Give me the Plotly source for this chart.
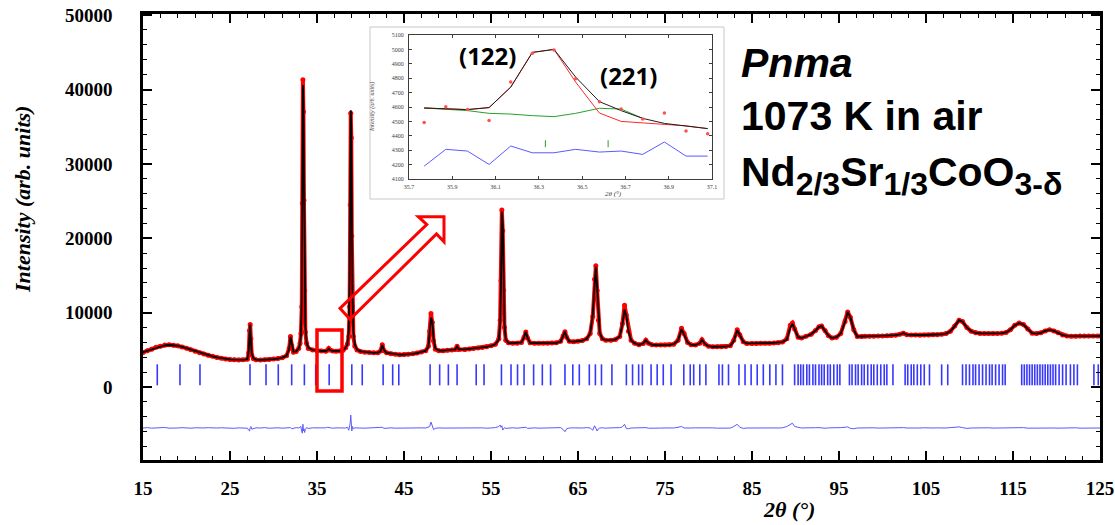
import plotly.graph_objects as go

# ---------------- main pattern ----------------
two_theta = [15.0, 15.5, 16.0, 16.5, 17.0, 17.5, 18.0, 18.5, 19.0, 19.5, 20.0, 20.5, 21.0, 21.5,
             22.0, 22.5, 23.0, 23.5, 24.0, 24.5, 25.0, 25.5, 26.0, 26.5, 27.0, 27.15, 27.25, 27.32,
             27.4, 27.5, 27.7, 28.0, 28.5, 29.0, 29.5, 30.0, 30.5, 31.0, 31.5, 31.8, 31.95, 32.1,
             32.3, 32.6, 32.9, 33.05, 33.15, 33.25, 33.32, 33.38, 33.44, 33.5, 33.58, 33.66, 33.8,
             34.0, 34.5, 35.0, 35.5, 36.0, 36.2, 36.35, 36.5, 36.8, 37.2, 37.6, 38.0, 38.3, 38.5,
             38.65, 38.75, 38.82, 38.88, 38.94, 39.0, 39.08, 39.18, 39.35, 39.6, 40.0, 40.5, 41.0,
             41.5, 42.0, 42.3, 42.5, 42.7, 43.0, 43.5, 44.0, 44.5, 45.0, 45.5, 46.0, 46.5, 47.0,
             47.5, 47.8, 47.95, 48.1, 48.25, 48.4, 48.6, 49.0, 49.5, 50.0, 50.5, 50.9, 51.1, 51.3,
             52.0, 52.5, 53.0, 53.5, 54.0, 54.5, 55.0, 55.5, 55.9, 56.05, 56.15, 56.25, 56.35, 56.45,
             56.55, 56.7, 57.0, 57.5, 58.0, 58.5, 58.8, 59.0, 59.2, 59.5, 60.0, 60.5, 61.0, 61.5,
             62.0, 62.5, 63.0, 63.3, 63.5, 63.7, 64.0, 64.5, 65.0, 65.5, 66.0, 66.4, 66.7, 66.9,
             67.05, 67.2, 67.35, 67.5, 67.8, 68.2, 68.8, 69.3, 69.8, 70.1, 70.35, 70.55, 70.8, 71.1,
             71.5, 72.0, 72.5, 72.8, 73.1, 73.5, 74.0, 74.5, 75.0, 75.5, 76.0, 76.5, 76.9, 77.2,
             77.6, 78.0, 78.5, 79.0, 79.25, 79.6, 80.0, 80.5, 81.0, 81.5, 82.0, 82.5, 82.9, 83.3,
             83.6, 84.0, 84.4, 85.0, 85.5, 86.0, 86.5, 87.0, 87.5, 88.0, 88.5, 89.0, 89.4, 89.65,
             89.9, 90.3, 90.7, 91.2, 91.8, 92.3, 92.7, 93.0, 93.4, 93.8, 94.2, 94.7, 95.2, 95.7,
             96.0, 96.3, 96.7, 97.1, 97.6, 98.0, 98.5, 99.0, 99.5, 100.0, 100.5, 101.0, 101.5,
             102.0, 102.4, 102.8, 103.3, 103.8, 104.3, 104.8, 105.3, 105.8, 106.3, 106.8, 107.3,
             107.8, 108.3, 108.8, 109.2, 109.7, 110.2, 110.7, 111.2, 111.7, 112.2, 112.7, 113.2,
             113.7, 114.2, 114.7, 115.2, 115.7, 116.2, 116.7, 117.2, 117.7, 118.2, 118.7, 119.2,
             119.7, 120.2, 120.7, 121.2, 121.7, 122.2, 122.7, 123.2, 123.7, 124.2, 124.7, 125.0]

y_obs = [4650, 4900, 5100, 5350, 5500, 5650, 5680, 5620, 5550, 5400, 5230, 5020, 4820, 4620,
         4450, 4280, 4130, 3990, 3870, 3780, 3720, 3680, 3650, 3660, 3750, 4600, 7600, 8400,
         6500, 4300, 3800, 3660, 3650, 3680, 3700, 3760, 3850, 3950, 4200, 5200, 6800, 5600,
         4700, 4800, 5200, 5900, 7200, 10800, 24700, 41300, 37000, 25100, 13000, 7400, 5900,
         5200, 5000, 4900, 4850, 4830, 4960, 5200, 5000, 4850, 4820, 4850, 4950, 5300, 5800,
         6800, 10800, 24500, 36800, 33500, 20300, 10800, 6800, 5500, 5000, 4800, 4700, 4640,
         4600, 4620, 4850, 5700, 4900, 4600, 4480, 4420, 4360, 4380, 4400, 4480, 4580, 4720,
         4900, 5500, 7500, 9900, 8700, 6200, 5100, 4900, 4900, 4950, 5000, 5050, 5500, 5050,
         5050, 5120, 5200, 5250, 5330, 5420, 5550, 5750, 6500, 9000, 14300, 23800, 21000, 13000,
         8000, 6300, 5950, 5900, 5900, 6000, 6700, 7400, 6600, 5950, 5900, 5900, 5880, 5900,
         5920, 5950, 6150, 6900, 7450, 6700, 6150, 6100, 6150, 6250, 6500, 7200, 9500, 14500,
         16300, 13000, 9000, 7200, 6500, 6300, 6300, 6400, 6800, 8500, 11000, 9700, 7500, 6300,
         5900, 5700, 5850, 6300, 5900, 5700, 5650, 5650, 5650, 5680, 5750, 6300, 7900, 7200,
         6000, 5700, 5650, 5900, 6350, 5800, 5500, 5420, 5420, 5430, 5450, 5550, 6300, 7700,
         7000, 6100, 5870, 5850, 5870, 5880, 5900, 5900, 5920, 5950, 6050, 6500, 8300, 8600,
         7800, 6700, 6600, 6850, 7100, 7600, 8100, 8200, 7600, 6900, 6600, 6700, 7200, 8800,
         10100, 9400, 7700, 6800, 6800, 6850, 6850, 6850, 6870, 6880, 6900, 6950, 6980,
         7100, 7250, 7050, 7000, 7000, 6980, 7000, 7000, 7020, 7050, 7100, 7200,
         7500, 8200, 9000, 8800, 8000, 7500, 7300, 7220, 7200, 7200, 7200, 7220,
         7250, 7350, 7700, 8300, 8600, 8400, 7800, 7250, 7200, 7300, 7550, 7700,
         7550, 7300, 7000, 6880, 6850, 6850, 6860, 6860, 6860, 6870, 6870, 6870]

y_calc = [4700, 4880, 5100, 5320, 5500, 5620, 5660, 5640, 5560, 5420, 5220, 5020, 4830, 4630,
          4440, 4270, 4120, 3990, 3880, 3780, 3720, 3680, 3660, 3650, 3760, 4900, 7300, 8400,
          6200, 4500, 3850, 3680, 3640, 3660, 3700, 3760, 3840, 3960, 4200, 5100, 6750, 5700,
          4750, 4800, 5200, 5800, 7000, 12000, 30000, 40600, 38200, 26000, 14500, 8200, 6000,
          5300, 4990, 4900, 4850, 4850, 4950, 5150, 4980, 4860, 4820, 4860, 4980, 5300, 5750,
          7600, 14500, 29000, 37200, 34500, 23000, 12500, 7500, 5700, 5050, 4800, 4720, 4650,
          4600, 4620, 4800, 5650, 4950, 4600, 4490, 4420, 4370, 4370, 4400, 4470, 4580, 4710,
          4900, 5400, 7200, 9300, 8900, 6500, 5200, 4920, 4900, 4960, 5000, 5050, 5450, 5080,
          5060, 5120, 5200, 5260, 5330, 5420, 5540, 5750, 6400, 8500, 14000, 23600, 22000, 14000,
          8500, 6400, 5950, 5900, 5900, 6000, 6700, 7450, 6600, 5950, 5900, 5900, 5880, 5900,
          5920, 5950, 6100, 6850, 7450, 6700, 6150, 6100, 6140, 6250, 6500, 7200, 9800, 14000,
          16200, 13400, 9400, 7300, 6500, 6300, 6300, 6400, 6800, 8400, 10400, 9600, 7500, 6300,
          5900, 5700, 5850, 6300, 5900, 5700, 5650, 5650, 5650, 5680, 5760, 6250, 7800, 7100,
          6000, 5700, 5650, 5880, 6350, 5800, 5500, 5420, 5420, 5430, 5450, 5550, 6200, 7650,
          7000, 6100, 5870, 5850, 5870, 5880, 5900, 5900, 5920, 5950, 6050, 6400, 8000, 8500,
          7800, 6700, 6600, 6850, 7100, 7600, 8100, 8200, 7600, 6900, 6600, 6700, 7200, 8800,
          10100, 9400, 7700, 6800, 6800, 6850, 6850, 6850, 6870, 6880, 6900, 6950, 6980,
          7100, 7250, 7050, 7000, 7000, 6980, 7000, 7000, 7020, 7050, 7100, 7200,
          7500, 8200, 9000, 8800, 8000, 7500, 7300, 7220, 7200, 7200, 7200, 7220,
          7250, 7350, 7700, 8300, 8600, 8400, 7800, 7250, 7200, 7300, 7550, 7700,
          7550, 7300, 7000, 6880, 6850, 6850, 6860, 6860, 6860, 6870, 6870, 6870]

y_diff = [-5500, -5450, -5520, -5480, -5500, -5430, -5520, -5560, -5500, -5450, -5500, -5530, -5470, -5520,
          -5490, -5460, -5530, -5500, -5470, -5520, -5490, -5540, -5480, -5510, -5530, -5800, -5900, -5450,
          -5300, -5650, -5550, -5480, -5500, -5450, -5530, -5490, -5470, -5520, -5500, -5400, -5450, -5600,
          -5500, -5450, -5500, -5400, -5300, -6000, -6200, -5000, -5900, -5600, -6100, -5700, -5450,
          -5550, -5480, -5500, -5450, -5480, -5400, -5420, -5500, -5530, -5480, -5500, -5450, -5500, -5400,
          -5800, -5200, -4800, -3760, -5000, -5900, -5300, -5600, -5480, -5500, -5460, -5520, -5490,
          -5470, -5510, -5450, -5400, -5550, -5500, -5480, -5520, -5500, -5470, -5530, -5490, -5510, -5480,
          -5500, -5400, -5300, -4700, -5400, -5700, -5550, -5480, -5510, -5500, -5470, -5520, -5450, -5500,
          -5490, -5520, -5460, -5500, -5480, -5530, -5470, -5450, -5300, -5100, -5400, -5200, -5780, -5600,
          -5450, -5550, -5500, -5470, -5520, -5500, -5450, -5400, -5550, -5500, -5480, -5520, -5500, -5470,
          -5530, -5500, -5450, -5700, -6000, -5600, -5500, -5480, -5520, -5500, -5450, -5500, -5800, -5200,
          -5500, -5900, -5600, -5500, -5470, -5520, -5480, -5500, -5450, -5350, -5000, -5550, -5600, -5500,
          -5480, -5520, -5500, -5450, -5530, -5500, -5470, -5510, -5490, -5520, -5500, -5400, -5300, -5500,
          -5550, -5500, -5480, -5460, -5450, -5520, -5500, -5480, -5520, -5500, -5470, -5510, -5300, -5000,
          -5400, -5550, -5500, -5480, -5520, -5500, -5460, -5510, -5490, -5500, -5470, -5300, -5000, -4850,
          -5300, -5450, -5500, -5480, -5520, -5460, -5450, -5500, -5530, -5480, -5500, -5470, -5450, -5400,
          -5350, -5550, -5600, -5500, -5480, -5520, -5500, -5470, -5510, -5490, -5520, -5500, -5460,
          -5480, -5450, -5500, -5520, -5490, -5500, -5470, -5510, -5500, -5480, -5520, -5500,
          -5450, -5400, -5350, -5450, -5550, -5500, -5480, -5520, -5500, -5470, -5510, -5490,
          -5520, -5500, -5450, -5400, -5380, -5450, -5520, -5500, -5480, -5520, -5470, -5450,
          -5500, -5520, -5490, -5510, -5500, -5470, -5520, -5500, -5480, -5510, -5500, -5500]

bragg_pos = [16.64, 19.25, 21.55, 27.3, 29.14, 30.55, 32.09, 33.55, 34.85, 36.4, 39.0, 40.2,
             42.6, 43.7, 44.4, 48.0, 49.1, 50.1, 51.1, 53.3, 54.2, 56.2, 57.3, 58.05, 58.8, 59.9,
             60.9, 61.85, 63.5, 64.4, 65.15, 66.3, 67.0, 67.7, 68.9, 70.56, 71.27, 71.97, 72.4,
             73.4, 74.1, 74.8, 75.7, 77.16, 77.9, 78.3, 79.0, 79.7, 81.2, 81.6, 82.3, 83.5, 84.2,
             84.9, 85.6, 86.3, 87.05, 87.75, 88.5, 89.9, 90.3, 90.6, 90.9, 91.3, 91.6, 92.0, 92.3,
             92.7, 93.0, 93.3, 93.7, 94.0, 94.4, 94.8, 95.1, 96.2, 96.5, 96.9, 97.2, 97.6, 97.9,
             98.3, 98.7, 99.0, 99.4, 99.8, 100.2, 100.5, 101.2, 102.6, 102.9, 103.3, 103.6, 104.0,
             104.4, 104.8, 105.4, 106.8, 107.5, 109.2, 109.6, 110.0, 110.4, 110.7, 111.1, 111.5,
             111.9, 112.3, 112.6, 113.0, 113.4, 113.8, 114.1, 116.0, 116.3, 116.6, 116.9, 117.2,
             117.5, 117.8, 118.1, 118.4, 118.7, 119.0, 119.3, 119.6, 119.9, 120.3, 120.7, 121.1,
             121.6, 122.0, 122.4, 124.3, 124.8]

x_ticks = [15, 25, 35, 45, 55, 65, 75, 85, 95, 105, 115, 125]
y_ticks = [0, 10000, 20000, 30000, 40000, 50000]

# ---------------- inset (35.7-37.1 deg) ----------------
ins_x = [35.77, 35.87, 35.97, 36.07, 36.17, 36.27, 36.37, 36.47, 36.58, 36.68, 36.78, 36.88, 36.98, 37.08]
ins_obs = [4493, 4602, 4582, 4507, 4773, 4974, 4995, 4796, 4637, 4586, 4516, 4558, 4434, 4415]
ins_calc = [4593, 4586, 4582, 4596, 4738, 4979, 5000, 4808, 4637, 4575, 4521, 4486, 4469, 4450]
ins_phase = [4593, 4586, 4582, 4596, 4738, 4979, 5000, 4773, 4558, 4500, 4488, 4479, 4469, 4450]
ins_green = [4593, 4582, 4575, 4556, 4551, 4540, 4533, 4556, 4591, 4586, 4521]
ins_diff = [4189, 4306, 4294, 4201, 4329, 4282, 4282, 4306, 4287, 4294, 4271, 4357, 4259, 4259]
ins_bragg = [36.33, 36.62]
ins_xticks = [35.7, 35.9, 36.1, 36.3, 36.5, 36.7, 36.9, 37.1]
ins_yticks = [4100, 4200, 4300, 4400, 4500, 4600, 4700, 4800, 4900, 5000, 5100]

# ---------------- layout helpers (window pixels -> paper) ----------------
W, H = 1115, 525
PLOT_L, PLOT_R, PLOT_T, PLOT_B = 143, 1100, 14, 460   # target frame, window pixels
ML, MR, MT, MB = PLOT_L, W - PLOT_R, PLOT_T, H - PLOT_B
PW, PH = W - ML - MR, H - MT - MB


def fx(px):
    return (px - PLOT_L) / PW


def fy(py):
    return (PLOT_B - py) / PH


SERIF = "Liberation Serif, Times New Roman, serif"
SANS = "Liberation Sans, Arial, sans-serif"

fig = go.Figure()

# observed (red band of points)
fig.add_trace(go.Scatter(x=two_theta, y=y_obs, mode="lines+markers",
                         line=dict(color="rgb(255,0,0)", width=4),
                         marker=dict(color="rgb(255,0,0)", size=5),
                         showlegend=False, xaxis="x", yaxis="y"))
# calculated
fig.add_trace(go.Scatter(x=two_theta, y=y_calc, mode="lines",
                         line=dict(color="black", width=1.8),
                         showlegend=False, xaxis="x", yaxis="y"))
# Bragg positions
fig.add_trace(go.Scatter(x=bragg_pos, y=[1650] * len(bragg_pos), mode="markers",
                         marker=dict(symbol="line-ns", size=15,
                                     line=dict(color="rgba(20,20,255,0.85)", width=1.6)),
                         showlegend=False, xaxis="x", yaxis="y"))
# difference
fig.add_trace(go.Scatter(x=two_theta, y=y_diff, mode="lines",
                         line=dict(color="rgb(90,90,255)", width=1),
                         showlegend=False, xaxis="x", yaxis="y"))

# inset traces
fig.add_trace(go.Scatter(x=ins_x[:len(ins_green)], y=ins_green, mode="lines",
                         line=dict(color="rgb(40,160,40)", width=1), showlegend=False,
                         xaxis="x2", yaxis="y2"))
fig.add_trace(go.Scatter(x=ins_x, y=ins_phase, mode="lines",
                         line=dict(color="rgb(255,40,40)", width=1), showlegend=False,
                         xaxis="x2", yaxis="y2"))
fig.add_trace(go.Scatter(x=ins_x, y=ins_calc, mode="lines",
                         line=dict(color="rgb(30,30,30)", width=1), showlegend=False,
                         xaxis="x2", yaxis="y2"))
fig.add_trace(go.Scatter(x=ins_x, y=ins_obs, mode="markers",
                         marker=dict(color="rgb(255,80,80)", size=3.5), showlegend=False,
                         xaxis="x2", yaxis="y2"))
fig.add_trace(go.Scatter(x=ins_x, y=ins_diff, mode="lines",
                         line=dict(color="rgb(90,90,255)", width=1), showlegend=False,
                         xaxis="x2", yaxis="y2"))
fig.add_trace(go.Scatter(x=ins_bragg, y=[4345] * len(ins_bragg), mode="markers",
                         marker=dict(symbol="line-ns", size=5,
                                     line=dict(color="rgb(40,160,40)", width=1)),
                         showlegend=False, xaxis="x2", yaxis="y2"))

axis_common = dict(showline=True, linecolor="black", linewidth=2.5, mirror="allticks",
                   ticks="inside", ticklen=9, tickwidth=2, tickcolor="black",
                   showgrid=False, zeroline=False, ticklabeloverflow="allow", automargin=False,
                   tickfont=dict(family=SERIF, size=19, color="black", weight="bold"))
inset_common = dict(showline=True, linecolor="rgb(60,60,60)", linewidth=1, mirror="allticks",
                    ticks="inside", ticklen=3, tickwidth=0.8, tickcolor="rgb(60,60,60)",
                    showgrid=False, zeroline=False, automargin=False,
                    tickfont=dict(family=SERIF, size=6, color="rgb(60,60,60)"))

fig.update_layout(
    width=W, height=H, autosize=False,
    margin=dict(l=ML, r=MR, t=MT, b=MB, pad=0, autoexpand=False),
    paper_bgcolor="white", plot_bgcolor="white",
    showlegend=False,
    xaxis=dict(range=[15, 125], tickvals=x_ticks, ticktext=[str(v) for v in x_ticks],
               minor=dict(tickvals=[v for v in range(17, 125, 2) if (v - 15) % 10 != 0],
                          ticks="inside", ticklen=4, tickwidth=1.2, tickcolor="black"),
               ticklabelstandoff=9, domain=[0, 1], anchor="y", **axis_common),
    yaxis=dict(range=[-9800, 50150], tickvals=y_ticks, ticktext=[str(v) for v in y_ticks],
               minor=dict(tickvals=[v for v in range(-8000, 50000, 2000) if v % 10000 != 0],
                          ticks="inside", ticklen=4, tickwidth=1.2, tickcolor="black"),
               ticklabelstandoff=24, domain=[0, 1], anchor="x", **axis_common),
    xaxis2=dict(domain=[fx(409), fx(712)], anchor="y2", range=[35.7, 37.1],
                tickvals=ins_xticks, ticktext=[f"{v:.1f}" for v in ins_xticks],
                ticklabelstandoff=2, **inset_common),
    yaxis2=dict(domain=[fy(179), fy(35)], anchor="x2", range=[4100, 5100],
                tickvals=ins_yticks, ticktext=[str(v) for v in ins_yticks],
                ticklabelstandoff=3, **inset_common),
)

shapes = [
    # inset picture border
    dict(type="rect", xref="paper", yref="paper", x0=fx(370), x1=fx(724), y0=fy(199), y1=fy(27),
         line=dict(color="rgb(200,200,200)", width=1), fillcolor="rgba(0,0,0,0)", layer="below"),
    # red box around the zoomed region
    dict(type="rect", xref="paper", yref="paper", x0=fx(317), x1=fx(342), y0=fy(391), y1=fy(330),
         line=dict(color="rgb(255,0,0)", width=3.5), layer="above"),
]
arrow_px = [(340, 308.3), (426.7, 224.5), (418.3, 216.7), (444, 216.7), (444, 241.7),
            (436.5, 234), (350, 319.3)]
path = "M " + " L ".join(f"{fx(a):.5f},{fy(b):.5f}" for a, b in arrow_px) + " Z"
shapes.append(dict(type="path", xref="paper", yref="paper", path=path,
                   line=dict(color="rgb(255,0,0)", width=3), fillcolor="rgba(0,0,0,0)",
                   layer="above"))
fig.update_layout(shapes=shapes)

ann = []
# axis titles
ann.append(dict(text="<i>Intensity (arb. units)</i>", x=fx(22), y=fy(199), xref="paper", yref="paper",
                textangle=-90, showarrow=False, xanchor="center", yanchor="middle",
                font=dict(family=SERIF, size=22, color="black", weight="bold")))
ann.append(dict(text="<i>2θ (°)</i>", x=fx(789), y=fy(509), xref="paper", yref="paper",
                showarrow=False, xanchor="center", yanchor="middle",
                font=dict(family=SERIF, size=22, color="black", weight="bold")))
# inset titles
ann.append(dict(text="<i>Intensity (arb. units)</i>", x=fx(372), y=fy(107), xref="paper", yref="paper",
                textangle=-90, showarrow=False, xanchor="center", yanchor="middle",
                font=dict(family=SERIF, size=6, color="rgb(60,60,60)")))
ann.append(dict(text="<i>2θ (°)</i>", x=fx(613), y=fy(194), xref="paper", yref="paper",
                showarrow=False, xanchor="center", yanchor="middle",
                font=dict(family=SERIF, size=7, color="rgb(60,60,60)")))
# reflection labels
ann.append(dict(text="(122)", x=fx(487), y=fy(55), xref="paper", yref="paper", showarrow=False,
                xanchor="center", yanchor="middle",
                font=dict(family="Open Sans, sans-serif", size=24, color="black", weight="bold")))
ann.append(dict(text="(221)", x=fx(628), y=fy(76), xref="paper", yref="paper", showarrow=False,
                xanchor="center", yanchor="middle",
                font=dict(family="Open Sans, sans-serif", size=24, color="black", weight="bold")))
# right-hand text block
ann.append(dict(text="<i>Pnma</i>", x=fx(739), y=fy(63), xref="paper", yref="paper", showarrow=False,
                xanchor="left", yanchor="middle",
                font=dict(family=SANS, size=41, color="black", weight="bold")))
ann.append(dict(text="1073 K in air", x=fx(739), y=fy(116), xref="paper", yref="paper", showarrow=False,
                xanchor="left", yanchor="middle",
                font=dict(family=SANS, size=41, color="black", weight="bold")))
SUB = '<sub><span style="font-size:32px">{}</span></sub>'
formula = "Nd" + SUB.format("2/3") + "Sr" + SUB.format("1/3") + "CoO" + SUB.format("3-δ")
ann.append(dict(text=formula, x=fx(739), y=fy(175),
                xref="paper", yref="paper", showarrow=False, xanchor="left", yanchor="middle",
                font=dict(family=SANS, size=41, color="black", weight="bold")))
fig.update_layout(annotations=ann)

fig.write_html("out.html", config={"displayModeBar": False},
               post_script="document.body.style.margin='0px';")
